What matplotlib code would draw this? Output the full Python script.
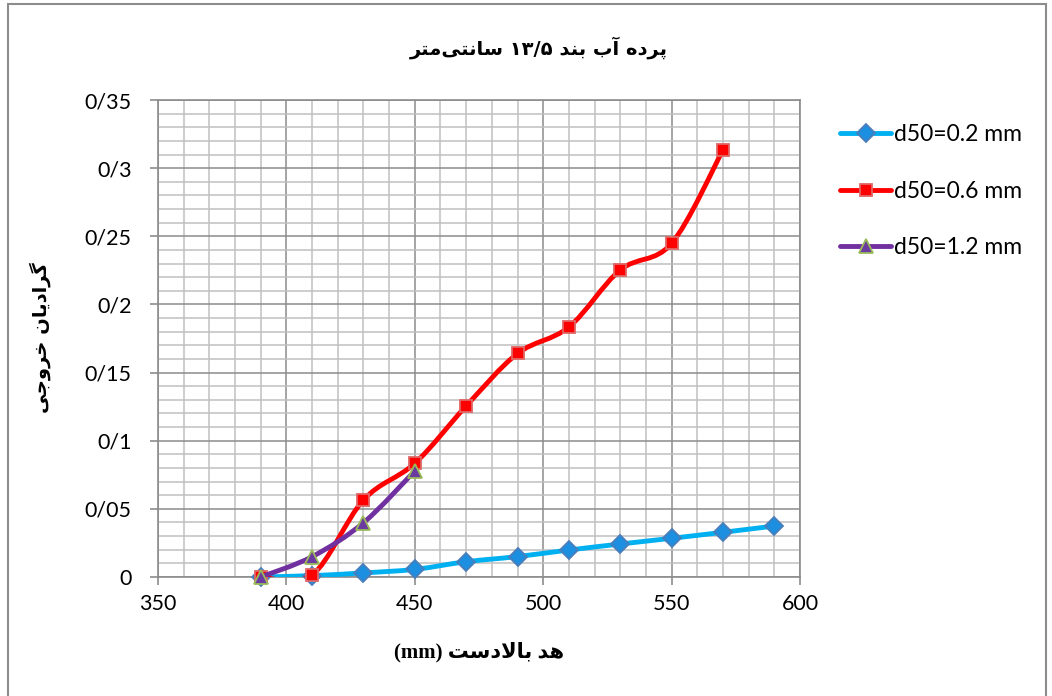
import numpy as np
import matplotlib
matplotlib.use('Agg')
import matplotlib.pyplot as plt
from matplotlib.path import Path
from matplotlib.patches import PathPatch, Rectangle
from matplotlib.lines import Line2D
from matplotlib.ticker import MultipleLocator, FixedLocator

# === Data ===
x_02 = [390, 410, 430, 450, 470, 490, 510, 530, 550, 570, 590]
y_02 = [0.0, 0.001, 0.003, 0.0056, 0.0112, 0.015, 0.0198, 0.0242, 0.0284, 0.0328, 0.0374]

x_06 = [390, 410, 430, 450, 470, 490, 510, 530, 550, 570]
y_06 = [0.0, 0.0015, 0.0565, 0.0834, 0.1255, 0.164, 0.1834, 0.2253, 0.2448, 0.3133]

x_12 = [390, 410, 430, 450]
y_12 = [0.0, 0.0149, 0.0398, 0.0778]

labels = ['d50=0.2 mm', 'd50=0.6 mm', 'd50=1.2 mm']
x_ticks = [350, 400, 450, 500, 550, 600]
y_ticks = [0, 0.05, 0.1, 0.15, 0.2, 0.25, 0.3, 0.35]
y_ticklabels = ['0', '0/05', '0/1', '0/15', '0/2', '0/25', '0/3', '0/35']

title_fa = 'پرده آب بند ۱۳/۵ سانتی\u200cمتر'
xlabel_fa = 'هد بالادست (mm)'
ylabel_fa = 'گرادیان خروجی'

# === Persian shaping (matplotlib has no complex text layout) ===
FORMS = {
    'ا': ('\uFE8D', '\uFE8E', None, None),
    'آ': ('\uFE81', '\uFE82', None, None),
    'ب': ('\uFE8F', '\uFE90', '\uFE91', '\uFE92'),
    'پ': ('\uFB56', '\uFB57', '\uFB58', '\uFB59'),
    'ت': ('\uFE95', '\uFE96', '\uFE97', '\uFE98'),
    'ج': ('\uFE9D', '\uFE9E', '\uFE9F', '\uFEA0'),
    'خ': ('\uFEA5', '\uFEA6', '\uFEA7', '\uFEA8'),
    'د': ('\uFEA9', '\uFEAA', None, None),
    'ر': ('\uFEAD', '\uFEAE', None, None),
    'س': ('\uFEB1', '\uFEB2', '\uFEB3', '\uFEB4'),
    'گ': ('\uFB92', '\uFB93', '\uFB94', '\uFB95'),
    'ل': ('\uFEDD', '\uFEDE', '\uFEDF', '\uFEE0'),
    'م': ('\uFEE1', '\uFEE2', '\uFEE3', '\uFEE4'),
    'ن': ('\uFEE5', '\uFEE6', '\uFEE7', '\uFEE8'),
    'ه': ('\uFEE9', '\uFEEA', '\uFEEB', '\uFEEC'),
    'و': ('\uFEED', '\uFEEE', None, None),
    'ی': ('\uFBFC', '\uFBFD', '\uFBFE', '\uFBFF'),
}
LAM_ALEF = ('\uFEFB', '\uFEFC')


def shape(text):
    chars = list(text)
    out = []
    i = 0
    while i < len(chars):
        c = chars[i]
        if c not in FORMS:
            out.append(c)
            i += 1
            continue
        prev = chars[i - 1] if i > 0 else None
        joins_prev = prev in FORMS and FORMS[prev][2] is not None
        if c == 'ل' and i + 1 < len(chars) and chars[i + 1] == 'ا':
            out.append(LAM_ALEF[1 if joins_prev else 0])
            i += 2
            continue
        nxt = chars[i + 1] if i + 1 < len(chars) else None
        joins_next = FORMS[c][2] is not None and nxt in FORMS
        isol, fin, ini, med = FORMS[c]
        if joins_prev and joins_next:
            out.append(med)
        elif joins_prev:
            out.append(fin)
        elif joins_next:
            out.append(ini)
        else:
            out.append(isol)
        i += 1
    # visual order: reverse, keep LTR runs (digits, latin) intact
    chunks = []
    for c in out:
        if c == '\u200c':
            continue
        ltr = (c.isascii() and c != ' ') or ('\u06f0' <= c <= '\u06f9')
        if ltr and chunks and chunks[-1][0]:
            chunks[-1][1].append(c)
        else:
            chunks.append([ltr, [c]])
    return ''.join(''.join(ch) for _, ch in reversed(chunks))


def smooth_path(x, y):
    # Excel-like smoothed line: cubic bezier through the points
    pts = np.column_stack([x, y]).astype(float)
    verts = [pts[0]]
    codes = [Path.MOVETO]
    n = len(pts)
    for i in range(n - 1):
        p0 = pts[i - 1] if i > 0 else pts[i]
        p1 = pts[i]
        p2 = pts[i + 1]
        p3 = pts[i + 2] if i + 2 < n else p2
        verts += [p1 + (p2 - p0) / 6, p2 - (p3 - p1) / 6, p2]
        codes += [Path.CURVE4] * 3
    return Path(verts, codes)


# === Figure ===
plt.rcParams['font.family'] = ['Lato', 'DejaVu Sans']
fig = plt.figure(figsize=(10.52, 6.96), dpi=100)
ax = fig.add_axes([158 / 1052, 1 - 577 / 696, 642 / 1052, 477 / 696])

series = [
    (x_02, y_02, '#00B0F0', 'D', '#1C8FE0', '#4A7EBB', 9),
    (x_06, y_06, '#FF0000', 's', '#FF0000', '#E06666', 9),
    (x_12, y_12, '#7030A0', '^', '#6A3BA0', '#9BBB59', 10),
]
handles = []
for k, (xs, ys, lc, mk, mfc, mec, ms) in enumerate(series):
    ax.add_patch(PathPatch(smooth_path(xs, ys), fill=False, edgecolor=lc, lw=3.5,
                           capstyle='round', joinstyle='round', zorder=3 + k))
    ax.plot(xs, ys, linestyle='none', marker=mk, ms=ms, mfc=mfc, mec=mec, mew=1.3,
            zorder=3.5 + k, clip_on=False)
    handles.append(Line2D([], [], color=lc, lw=3.5, marker=mk, ms=ms, mfc=mfc,
                          mec=mec, mew=1.3, solid_capstyle='round'))

ax.set_xlim(350, 600)
ax.set_ylim(0, 0.35)
ax.xaxis.set_major_locator(FixedLocator(x_ticks))
ax.yaxis.set_major_locator(FixedLocator(y_ticks))
ax.set_yticklabels(y_ticklabels)
ax.xaxis.set_minor_locator(MultipleLocator(10))
ax.yaxis.set_minor_locator(MultipleLocator(0.01))
ax.grid(which='minor', color='#C0C0C0', lw=1.1)
ax.grid(which='major', color='#8C8C8C', lw=1.1)
ax.set_axisbelow(True)
ax.tick_params(which='major', length=6, width=1.2, color='#8C8C8C', labelsize=15.5,
               pad=6)
ax.tick_params(axis='y', pad=13)
ax.tick_params(which='minor', length=0)
for s in ax.spines.values():
    s.set_color('#8C8C8C')
    s.set_linewidth(1.2)

fig.text(539 / 1052, 1 - 48 / 696, shape(title_fa), family='DejaVu Sans',
         weight='bold', fontsize=14, ha='center', va='center')
fig.text(479 / 1052, 1 - 652 / 696, shape(xlabel_fa),
         family=['Liberation Serif', 'DejaVu Sans'],
         weight='bold', fontsize=15, ha='center', va='center')
fig.text(40 / 1052, 1 - 338 / 696, shape(ylabel_fa), family='DejaVu Sans',
         weight='bold', fontsize=14, ha='center', va='center', rotation=90)

fig.legend(handles, labels, loc='upper left', bbox_to_anchor=(829 / 1052, 1 - 113 / 696),
           frameon=False, fontsize=16.5, handlelength=2.2, handletextpad=0.15,
           labelspacing=1.55, borderpad=0)

fig.patches.append(Rectangle((8 / 1052, -0.01), 1038 / 1052, 1.01 - 4 / 696,
                             transform=fig.transFigure, fill=False,
                             edgecolor='#8C8C8C', lw=1.5))

fig.savefig('out.png', dpi=100)
